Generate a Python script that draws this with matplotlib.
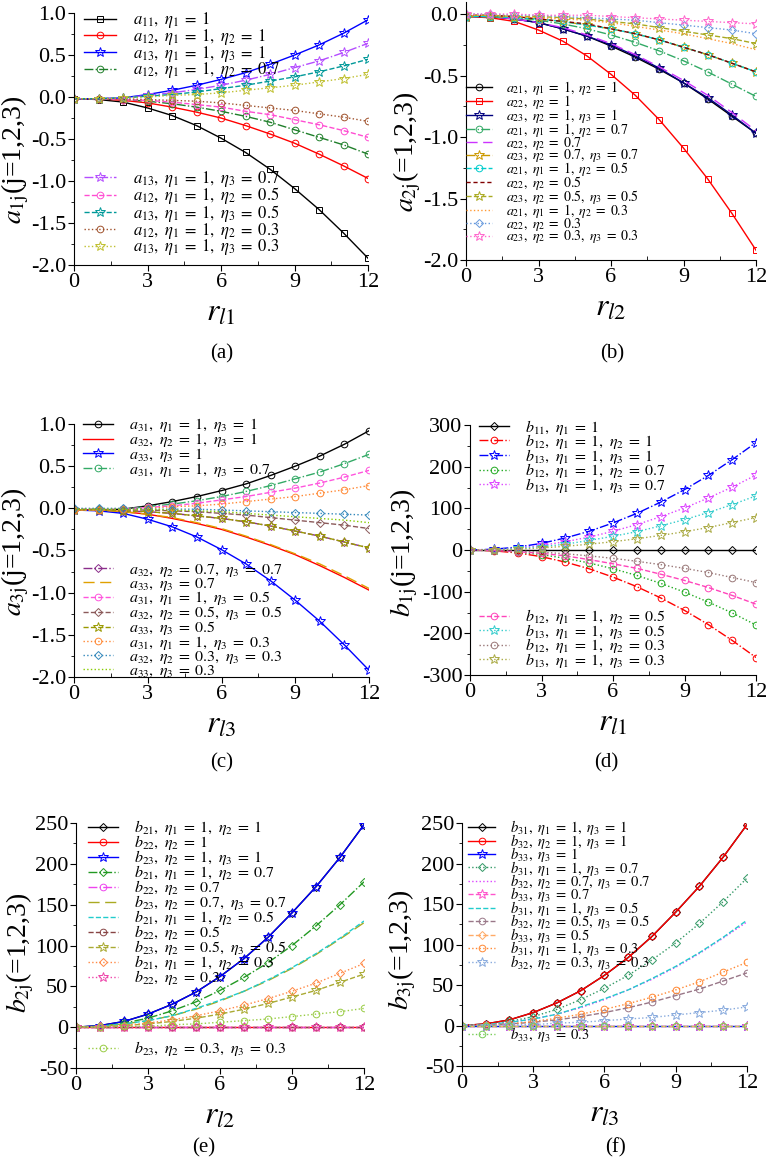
import matplotlib
matplotlib.use('Agg')
import matplotlib.pyplot as plt

plt.rcParams['font.family'] = 'Liberation Serif'
plt.rcParams['mathtext.fontset'] = 'stix'
plt.rcParams['axes.unicode_minus'] = False

r = [0, 1, 2, 3, 4, 5, 6, 7, 8, 9, 10, 11, 12]

# ---- (a) a_1j vs r_l1
a11_1 = [-0.02, -0.03, -0.06, -0.13, -0.22, -0.34, -0.49, -0.66, -0.86, -1.09, -1.34, -1.62, -1.92]
a12_10 = [-0.02, -0.02, -0.04, -0.07, -0.12, -0.18, -0.25, -0.34, -0.44, -0.55, -0.68, -0.82, -0.97]
a13_10 = [-0.02, -0.02, -0.01, 0.03, 0.08, 0.14, 0.21, 0.29, 0.39, 0.50, 0.62, 0.76, 0.92]
a12_07 = [-0.02, -0.02, -0.03, -0.05, -0.08, -0.12, -0.17, -0.23, -0.30, -0.39, -0.48, -0.57, -0.68]
a13_07 = [-0.02, -0.02, -0.01, 0.02, 0.05, 0.09, 0.14, 0.20, 0.27, 0.35, 0.43, 0.53, 0.64]
a12_05 = [-0.02, -0.02, -0.03, -0.04, -0.06, -0.09, -0.12, -0.17, -0.21, -0.27, -0.33, -0.40, -0.48]
a13_05 = [-0.02, -0.02, -0.01, 0.01, 0.03, 0.06, 0.10, 0.14, 0.19, 0.24, 0.30, 0.37, 0.45]
a12_03 = [-0.02, -0.02, -0.02, -0.03, -0.04, -0.05, -0.07, -0.10, -0.13, -0.16, -0.20, -0.24, -0.29]
a13_03 = [-0.02, -0.02, -0.01, 0.00, 0.02, 0.03, 0.05, 0.08, 0.11, 0.14, 0.18, 0.22, 0.27]

# ---- (b) a_2j vs r_l2
a21_10 = [-0.02, -0.02, -0.04, -0.07, -0.12, -0.18, -0.26, -0.35, -0.45, -0.56, -0.69, -0.83, -0.97]
a22_10 = [-0.02, -0.03, -0.06, -0.13, -0.22, -0.34, -0.49, -0.66, -0.86, -1.09, -1.34, -1.62, -1.92]
a23_10 = [-0.02, -0.02, -0.04, -0.07, -0.12, -0.18, -0.25, -0.34, -0.44, -0.56, -0.68, -0.82, -0.97]
a21_07 = [-0.02, -0.02, -0.03, -0.05, -0.08, -0.12, -0.17, -0.23, -0.30, -0.38, -0.47, -0.57, -0.67]
a22_07 = [-0.02, -0.02, -0.04, -0.07, -0.11, -0.17, -0.24, -0.33, -0.43, -0.54, -0.66, -0.80, -0.95]
a23_07 = [-0.02, -0.02, -0.03, -0.04, -0.06, -0.09, -0.12, -0.16, -0.21, -0.27, -0.33, -0.40, -0.47]
a21_05 = [-0.02, -0.02, -0.03, -0.04, -0.06, -0.09, -0.12, -0.16, -0.21, -0.27, -0.33, -0.40, -0.47]
a22_05 = [-0.01, -0.01, -0.02, -0.04, -0.06, -0.08, -0.12, -0.16, -0.21, -0.27, -0.33, -0.40, -0.47]
a23_05 = [-0.01, -0.01, -0.02, -0.02, -0.03, -0.04, -0.06, -0.08, -0.11, -0.14, -0.17, -0.20, -0.24]
a21_03 = [-0.01, -0.01, -0.02, -0.03, -0.04, -0.05, -0.07, -0.10, -0.13, -0.16, -0.20, -0.24, -0.29]
a22_03 = [0.00, 0.00, -0.01, -0.01, -0.02, -0.03, -0.04, -0.05, -0.07, -0.09, -0.11, -0.13, -0.16]
a23_03 = [0.00, 0.00, 0.00, -0.01, -0.01, -0.01, -0.02, -0.03, -0.04, -0.05, -0.06, -0.07, -0.08]

# ---- (c) a_3j vs r_l3
a31_10 = [-0.02, -0.02, -0.01, 0.03, 0.08, 0.14, 0.21, 0.29, 0.39, 0.50, 0.62, 0.76, 0.92]
a32_10 = [-0.02, -0.02, -0.04, -0.07, -0.12, -0.18, -0.25, -0.34, -0.44, -0.55, -0.68, -0.82, -0.97]
a33_10 = [-0.02, -0.03, -0.06, -0.13, -0.22, -0.34, -0.49, -0.66, -0.86, -1.09, -1.34, -1.62, -1.92]
a31_07 = [-0.02, -0.02, -0.01, 0.02, 0.05, 0.09, 0.14, 0.20, 0.27, 0.35, 0.43, 0.53, 0.64]
a32_07 = [-0.02, -0.02, -0.03, -0.04, -0.06, -0.09, -0.12, -0.16, -0.21, -0.27, -0.33, -0.40, -0.47]
a33_07 = [-0.02, -0.02, -0.04, -0.07, -0.11, -0.17, -0.24, -0.33, -0.43, -0.54, -0.66, -0.80, -0.95]
a31_05 = [-0.02, -0.02, -0.01, 0.01, 0.03, 0.06, 0.10, 0.14, 0.19, 0.24, 0.30, 0.37, 0.45]
a32_05 = [-0.01, -0.01, -0.02, -0.02, -0.03, -0.04, -0.06, -0.08, -0.11, -0.14, -0.17, -0.20, -0.24]
a33_05 = [-0.02, -0.02, -0.03, -0.04, -0.06, -0.09, -0.12, -0.16, -0.21, -0.27, -0.33, -0.40, -0.47]
a31_03 = [-0.02, -0.02, -0.01, 0.00, 0.02, 0.03, 0.05, 0.08, 0.11, 0.14, 0.18, 0.22, 0.27]
a32_03 = [0.00, 0.00, 0.00, -0.01, -0.01, -0.01, -0.02, -0.03, -0.04, -0.05, -0.06, -0.07, -0.08]
a33_03 = [-0.01, -0.01, -0.01, -0.01, -0.02, -0.03, -0.04, -0.06, -0.08, -0.10, -0.12, -0.14, -0.17]

# ---- (d) b_1j vs r_l1
b11_1 = [0, 0, 0, 0, 0, 0, 0, 0, 0, 0, 0, 0, 0]
b12_10 = [0, -2, -7, -16, -29, -45, -65, -88, -115, -145, -179, -217, -258]
b13_10 = [0, 2, 7, 16, 29, 45, 65, 88, 115, 145, 179, 217, 258]
b12_07 = [0, -1, -5, -11, -20, -31, -45, -61, -80, -101, -125, -151, -180]
b13_07 = [0, 1, 5, 11, 20, 31, 45, 61, 80, 101, 125, 151, 180]
b12_05 = [0, -1, -4, -8, -14, -23, -33, -44, -58, -73, -90, -109, -130]
b13_05 = [0, 1, 4, 8, 14, 23, 33, 44, 58, 73, 90, 109, 130]
b12_03 = [0, -1, -2, -5, -9, -14, -20, -27, -35, -44, -54, -66, -78]
b13_03 = [0, 1, 2, 5, 9, 14, 20, 27, 35, 44, 54, 66, 78]

# ---- (e) b_2j vs r_l2
b21_10 = [0, 2, 7, 16, 28, 43, 62, 84, 110, 140, 172, 208, 248]
b22_10 = [0, 0, 0, 0, 0, 0, 0, 0, 0, 0, 0, 0, 0]
b23_10 = [0, 2, 7, 16, 28, 43, 62, 84, 110, 140, 172, 208, 248]
b21_07 = [0, 1, 5, 11, 20, 31, 45, 61, 79, 100, 124, 150, 178]
b22_07 = [0, 0, 0, 0, 0, 0, 0, 0, 0, 0, 0, 0, 0]
b23_07 = [0, 1, 4, 8, 14, 22, 32, 44, 57, 72, 89, 108, 128]
b21_05 = [0, 1, 4, 8, 14, 23, 33, 44, 58, 73, 90, 109, 130]
b22_05 = [0, 0, 0, 0, 0, 0, 0, 0, 0, 0, 0, 0, 0]
b23_05 = [0, 0, 2, 4, 7, 11, 16, 22, 29, 37, 45, 55, 65]
b21_03 = [0, 1, 2, 5, 9, 14, 20, 27, 35, 44, 54, 66, 78]
b22_03 = [0, 0, 0, 0, 0, 0, 0, 0, 0, 0, 0, 0, 0]
b23_03 = [0, 0, 1, 1, 3, 4, 6, 8, 10, 13, 16, 19, 23]

# ---- (f) b_3j vs r_l3
b31_10 = [0, 2, 7, 16, 28, 43, 62, 84, 110, 140, 172, 208, 248]
b32_10 = [0, 2, 7, 16, 28, 43, 62, 84, 110, 140, 172, 208, 248]
b33_10 = [0, 0, 0, 0, 0, 0, 0, 0, 0, 0, 0, 0, 0]
b31_07 = [0, 1, 5, 11, 20, 32, 46, 62, 81, 102, 126, 153, 182]
b32_07 = [0, 1, 4, 8, 14, 22, 32, 44, 57, 72, 89, 108, 128]
b33_07 = [0, 0, 0, 0, 0, 0, 0, 0, 0, 0, 0, 0, 0]
b31_05 = [0, 1, 4, 8, 14, 23, 33, 44, 58, 73, 90, 109, 130]
b32_05 = [0, 0, 2, 4, 7, 11, 16, 22, 29, 37, 45, 55, 65]
b33_05 = [0, 0, 0, 0, 0, 0, 0, 0, 0, 0, 0, 0, 0]
b31_03 = [0, 1, 2, 5, 9, 14, 20, 27, 35, 44, 54, 66, 78]
b32_03 = [0, 0, 1, 1, 3, 4, 6, 8, 10, 13, 16, 19, 23]
b33_03 = [0, 0, 0, 0, 0, 0, 0, 0, 0, 0, 0, 0, 0]

LD = (0, (8, 4))
SD = (0, (3, 2))

series_a = [
    (r'$a_{11}, \eta_1 = 1$', a11_1, 'black', '-', 's'),
    (r'$a_{12}, \eta_1 = 1, \eta_2 = 1$', a12_10, 'red', '-', 'o'),
    (r'$a_{13}, \eta_1 = 1, \eta_3 = 1$', a13_10, 'blue', '-', '*'),
    (r'$a_{12}, \eta_1 = 1, \eta_2 = 0.7$', a12_07, '#1f7f2a', '-.', 'o'),
    (r'$a_{13}, \eta_1 = 1, \eta_3 = 0.7$', a13_07, '#b44dff', '-.', '*'),
    (r'$a_{12}, \eta_1 = 1, \eta_2 = 0.5$', a12_05, '#ff4dd2', '--', 'o'),
    (r'$a_{13}, \eta_1 = 1, \eta_3 = 0.5$', a13_05, '#009999', '--', '*'),
    (r'$a_{12}, \eta_1 = 1, \eta_2 = 0.3$', a12_03, '#a0522d', ':', 'o'),
    (r'$a_{13}, \eta_1 = 1, \eta_3 = 0.3$', a13_03, '#c0c030', ':', '*'),
]
series_b = [
    (r'$a_{21}, \eta_1 = 1, \eta_2 = 1$', a21_10, 'black', '-', 'o'),
    (r'$a_{22}, \eta_2 = 1$', a22_10, 'red', '-', 's'),
    (r'$a_{23}, \eta_2 = 1, \eta_3 = 1$', a23_10, '#00007f', '-', '*'),
    (r'$a_{21}, \eta_1 = 1, \eta_2 = 0.7$', a21_07, '#33aa66', '-.', 'o'),
    (r'$a_{22}, \eta_2 = 0.7$', a22_07, '#cc33ff', LD, None),
    (r'$a_{23}, \eta_2 = 0.7, \eta_3 = 0.7$', a23_07, '#cc9900', '-.', '*'),
    (r'$a_{21}, \eta_1 = 1, \eta_2 = 0.5$', a21_05, '#00cccc', '--', 'o'),
    (r'$a_{22}, \eta_2 = 0.5$', a22_05, '#800000', SD, None),
    (r'$a_{23}, \eta_2 = 0.5, \eta_3 = 0.5$', a23_05, '#aaaa22', '--', '*'),
    (r'$a_{21}, \eta_1 = 1, \eta_2 = 0.3$', a21_03, '#ff9933', ':', None),
    (r'$a_{22}, \eta_2 = 0.3$', a22_03, '#6699dd', ':', 'D'),
    (r'$a_{23}, \eta_2 = 0.3, \eta_3 = 0.3$', a23_03, '#ff66cc', ':', '*'),
]
series_c = [
    (r'$a_{31}, \eta_1 = 1, \eta_3 = 1$', a31_10, 'black', '-', 'o'),
    (r'$a_{32}, \eta_2 = 1, \eta_3 = 1$', a32_10, 'red', '-', None),
    (r'$a_{33}, \eta_3 = 1$', a33_10, 'blue', '-', '*'),
    (r'$a_{31}, \eta_1 = 1, \eta_3 = 0.7$', a31_07, '#33aa66', '-.', 'o'),
    (r'$a_{32}, \eta_2 = 0.7, \eta_3 = 0.7$', a32_07, '#8b2e8b', '-.', 'D'),
    (r'$a_{33}, \eta_3 = 0.7$', a33_07, '#e0a000', LD, None),
    (r'$a_{31}, \eta_1 = 1, \eta_3 = 0.5$', a31_05, '#ff55dd', '--', 'o'),
    (r'$a_{32}, \eta_2 = 0.5, \eta_3 = 0.5$', a32_05, '#8b5a5a', '--', 'D'),
    (r'$a_{33}, \eta_3 = 0.5$', a33_05, '#999900', '--', '*'),
    (r'$a_{31}, \eta_1 = 1, \eta_3 = 0.3$', a31_03, '#ff8833', ':', 'o'),
    (r'$a_{32}, \eta_2 = 0.3, \eta_3 = 0.3$', a32_03, '#3388bb', ':', 'D'),
    (r'$a_{33}, \eta_3 = 0.3$', a33_03, '#88cc00', ':', None),
]
series_d = [
    (r'$b_{11}, \eta_1 = 1$', b11_1, 'black', '-', 'D'),
    (r'$b_{12}, \eta_1 = 1, \eta_2 = 1$', b12_10, 'red', '-.', 'o'),
    (r'$b_{13}, \eta_1 = 1, \eta_3 = 1$', b13_10, 'blue', '-.', '*'),
    (r'$b_{12}, \eta_1 = 1, \eta_2 = 0.7$', b12_07, '#22aa22', ':', 'o'),
    (r'$b_{13}, \eta_1 = 1, \eta_3 = 0.7$', b13_07, '#dd44ff', ':', '*'),
    (r'$b_{12}, \eta_1 = 1, \eta_2 = 0.5$', b12_05, '#ff44bb', '--', 'o'),
    (r'$b_{13}, \eta_1 = 1, \eta_3 = 0.5$', b13_05, '#33cccc', ':', '*'),
    (r'$b_{12}, \eta_1 = 1, \eta_2 = 0.3$', b12_03, '#997777', ':', 'o'),
    (r'$b_{13}, \eta_1 = 1, \eta_3 = 0.3$', b13_03, '#aaaa44', ':', '*'),
]
series_e = [
    (r'$b_{21}, \eta_1 = 1, \eta_2 = 1$', b21_10, 'black', '-', 'D'),
    (r'$b_{22}, \eta_2 = 1$', b22_10, 'red', '-', 'o'),
    (r'$b_{23}, \eta_2 = 1, \eta_3 = 1$', b23_10, 'blue', '-', '*'),
    (r'$b_{21}, \eta_1 = 1, \eta_2 = 0.7$', b21_07, '#229922', '-.', 'D'),
    (r'$b_{22}, \eta_2 = 0.7$', b22_07, '#ee44ee', '-.', 'o'),
    (r'$b_{23}, \eta_2 = 0.7, \eta_3 = 0.7$', b23_07, '#aaaa22', LD, None),
    (r'$b_{21}, \eta_1 = 1, \eta_2 = 0.5$', b21_05, '#22cccc', '--', None),
    (r'$b_{22}, \eta_2 = 0.5$', b22_05, '#884444', '--', 'o'),
    (r'$b_{23}, \eta_2 = 0.5, \eta_3 = 0.5$', b23_05, '#aaaa33', '--', '*'),
    (r'$b_{21}, \eta_1 = 1, \eta_2 = 0.3$', b21_03, '#ff8844', ':', 'D'),
    (r'$b_{22}, \eta_2 = 0.3$', b22_03, '#ee44aa', ':', '*'),
    (r'$b_{23}, \eta_2 = 0.3, \eta_3 = 0.3$', b23_03, '#99cc44', ':', 'o'),
]
series_f = [
    (r'$b_{31}, \eta_1 = 1, \eta_3 = 1$', b31_10, 'black', '-', 'D'),
    (r'$b_{32}, \eta_2 = 1, \eta_3 = 1$', b32_10, 'red', '-', 'o'),
    (r'$b_{33}, \eta_3 = 1$', b33_10, 'blue', '-', '*'),
    (r'$b_{31}, \eta_1 = 1, \eta_3 = 0.7$', b31_07, '#339966', ':', 'D'),
    (r'$b_{32}, \eta_2 = 0.7, \eta_3 = 0.7$', b32_07, '#dd44ff', ':', None),
    (r'$b_{33}, \eta_3 = 0.7$', b33_07, '#ff55cc', '--', '*'),
    (r'$b_{31}, \eta_1 = 1, \eta_3 = 0.5$', b31_05, '#22cccc', '--', None),
    (r'$b_{32}, \eta_2 = 0.5, \eta_3 = 0.5$', b32_05, '#997788', '--', 'o'),
    (r'$b_{33}, \eta_3 = 0.5$', b33_05, '#ffaa66', '--', 'D'),
    (r'$b_{31}, \eta_1 = 1, \eta_3 = 0.3$', b31_03, '#ff8833', ':', 'o'),
    (r'$b_{32}, \eta_2 = 0.3, \eta_3 = 0.3$', b32_03, '#88aadd', ':', '*'),
    (r'$b_{33}, \eta_3 = 0.3$', b33_03, '#77cc55', ':', 'o'),
]


def widen(lab):
    # the original legend puts generous spaces around "=" and after commas
    return lab.replace(' = ', r'\;=\;').replace(', ', r',\ ')


def panel(rect, series, ntop, ylim, yticks, yminor, ylabel, ylab_x, ylab_y, xlabel, tag, tagxy,
          top_anchor, bot_anchor, fs, lsp):
    ax = fig.add_axes(rect)
    handles = []
    for lab, vals, col, ls, mk in series:
        ms = 7 if mk == '*' else (4.0 if mk == 'D' else 4.8)
        h, = ax.plot(r, vals, color=col, ls=ls, lw=1.0, marker=mk, ms=ms,
                     mfc='none', mec=col, mew=0.7, label=widen(lab))
        handles.append(h)
    ax.set_xlim(0, 12)
    ax.set_ylim(*ylim)
    ax.set_xticks([0, 3, 6, 9, 12])
    ax.set_xticks([1.5, 4.5, 7.5, 10.5], minor=True)
    ax.set_yticks(yticks)
    ax.set_yticks(yminor, minor=True)
    if isinstance(yticks[0], float):
        ax.set_yticklabels(['%.1f' % v for v in yticks])
    for s in ['top', 'right']:
        ax.spines[s].set_visible(False)
    ax.tick_params(which='major', direction='out', length=4, labelsize=16, pad=1.5)
    ax.tick_params(axis='x', which='minor', direction='in', length=3)
    ax.tick_params(axis='y', which='minor', direction='out', length=2.5)
    # label centre placed in figure pixels, like the original
    ax.set_ylabel(ylabel, fontsize=20)
    ax.yaxis.set_label_coords(ylab_x / 767, ylab_y, transform=fig.transFigure)
    ax.yaxis.label.set_va('center')
    ax.set_xlabel(xlabel, fontsize=23, labelpad=5)
    kw = dict(frameon=False, fontsize=fs, labelspacing=lsp, handlelength=1.9,
              handletextpad=1.0, borderaxespad=0, borderpad=0)
    leg1 = ax.legend(handles=handles[:ntop], loc='upper left', bbox_to_anchor=top_anchor, **kw)
    if ntop < len(handles):
        ax.add_artist(leg1)
        ax.legend(handles=handles[ntop:], loc='lower left', bbox_to_anchor=bot_anchor, **kw)
    fig.text(tagxy[0], tagxy[1], tag, fontsize=15, ha='center', va='center')
    return ax


fig = plt.figure(figsize=(7.67, 11.61), dpi=100)

panel([0.0965, 0.7717, 0.3835, 0.2171], series_a, 4, (-2.0, 1.0),
      [-2.0, -1.5, -1.0, -0.5, 0.0, 0.5, 1.0], [-1.75, -1.25, -0.75, -0.25, 0.25, 0.75],
      r'$a_{\mathrm{1j}}$(j=1,2,3)', 15, 1 - 160 / 1161, r'$r_{l1}$', '(a)', (0.289, 0.695),
      (0.035, 1.01), (0.035, 0.03), 12, -0.2)

panel([0.6076, 0.776, 0.3781, 0.2225], series_b, 12, (-2.0, 0.1),
      [-2.0, -1.5, -1.0, -0.5, 0.0], [-1.75, -1.25, -0.75, -0.25],
      r'$a_{\mathrm{2j}}$(=1,2,3)', 407, 1 - 152 / 1161, r'$r_{l2}$', '(b)', (0.798, 0.695),
      (0.0, 0.70), (0.0, 0.0), 10, -0.3)

panel([0.0965, 0.4169, 0.3846, 0.2179], series_c, 4, (-2.0, 1.0),
      [-2.0, -1.5, -1.0, -0.5, 0.0, 0.5, 1.0], [-1.75, -1.25, -0.75, -0.25, 0.25, 0.75],
      r'$a_{\mathrm{3j}}$(j=1,2,3)', 15, 1 - 552 / 1161, r'$r_{l3}$', '(c)', (0.289, 0.343),
      (0.03, 1.03), (0.03, -0.01), 11.5, -0.2)

panel([0.6128, 0.4186, 0.3729, 0.2153], series_d, 5, (-300, 300),
      [-300, -200, -100, 0, 100, 200, 300], [-250, -150, -50, 50, 150, 250],
      r'$b_{\mathrm{1j}}$(j=1,2,3)', 404, 1 - 553 / 1161, r'$r_{l1}$', '(d)', (0.79, 0.343),
      (0.03, 1.03), (0.03, 0.02), 11.5, -0.28)

panel([0.0991, 0.0801, 0.3755, 0.211], series_e, 11, (-50, 250),
      [-50, 0, 50, 100, 150, 200, 250], [-25, 25, 75, 125, 175, 225],
      r'$b_{\mathrm{2j}}$(=1,2,3)', 20, 1 - 953 / 1161, r'$r_{l2}$', '(e)', (0.266, 0.011),
      (0.04, 1.02), (0.04, 0.04), 11.5, -0.25)

panel([0.6023, 0.0818, 0.3716, 0.2093], series_f, 11, (-50, 250),
      [-50, 0, 50, 100, 150, 200, 250], [-25, 25, 75, 125, 175, 225],
      r'$b_{\mathrm{3j}}$(=1,2,3)', 402, 1 - 950 / 1161, r'$r_{l3}$', '(f)', (0.803, 0.011),
      (0.02, 1.02), (0.02, 0.09), 10.5, -0.38)

fig.savefig('out.png', dpi=100)
